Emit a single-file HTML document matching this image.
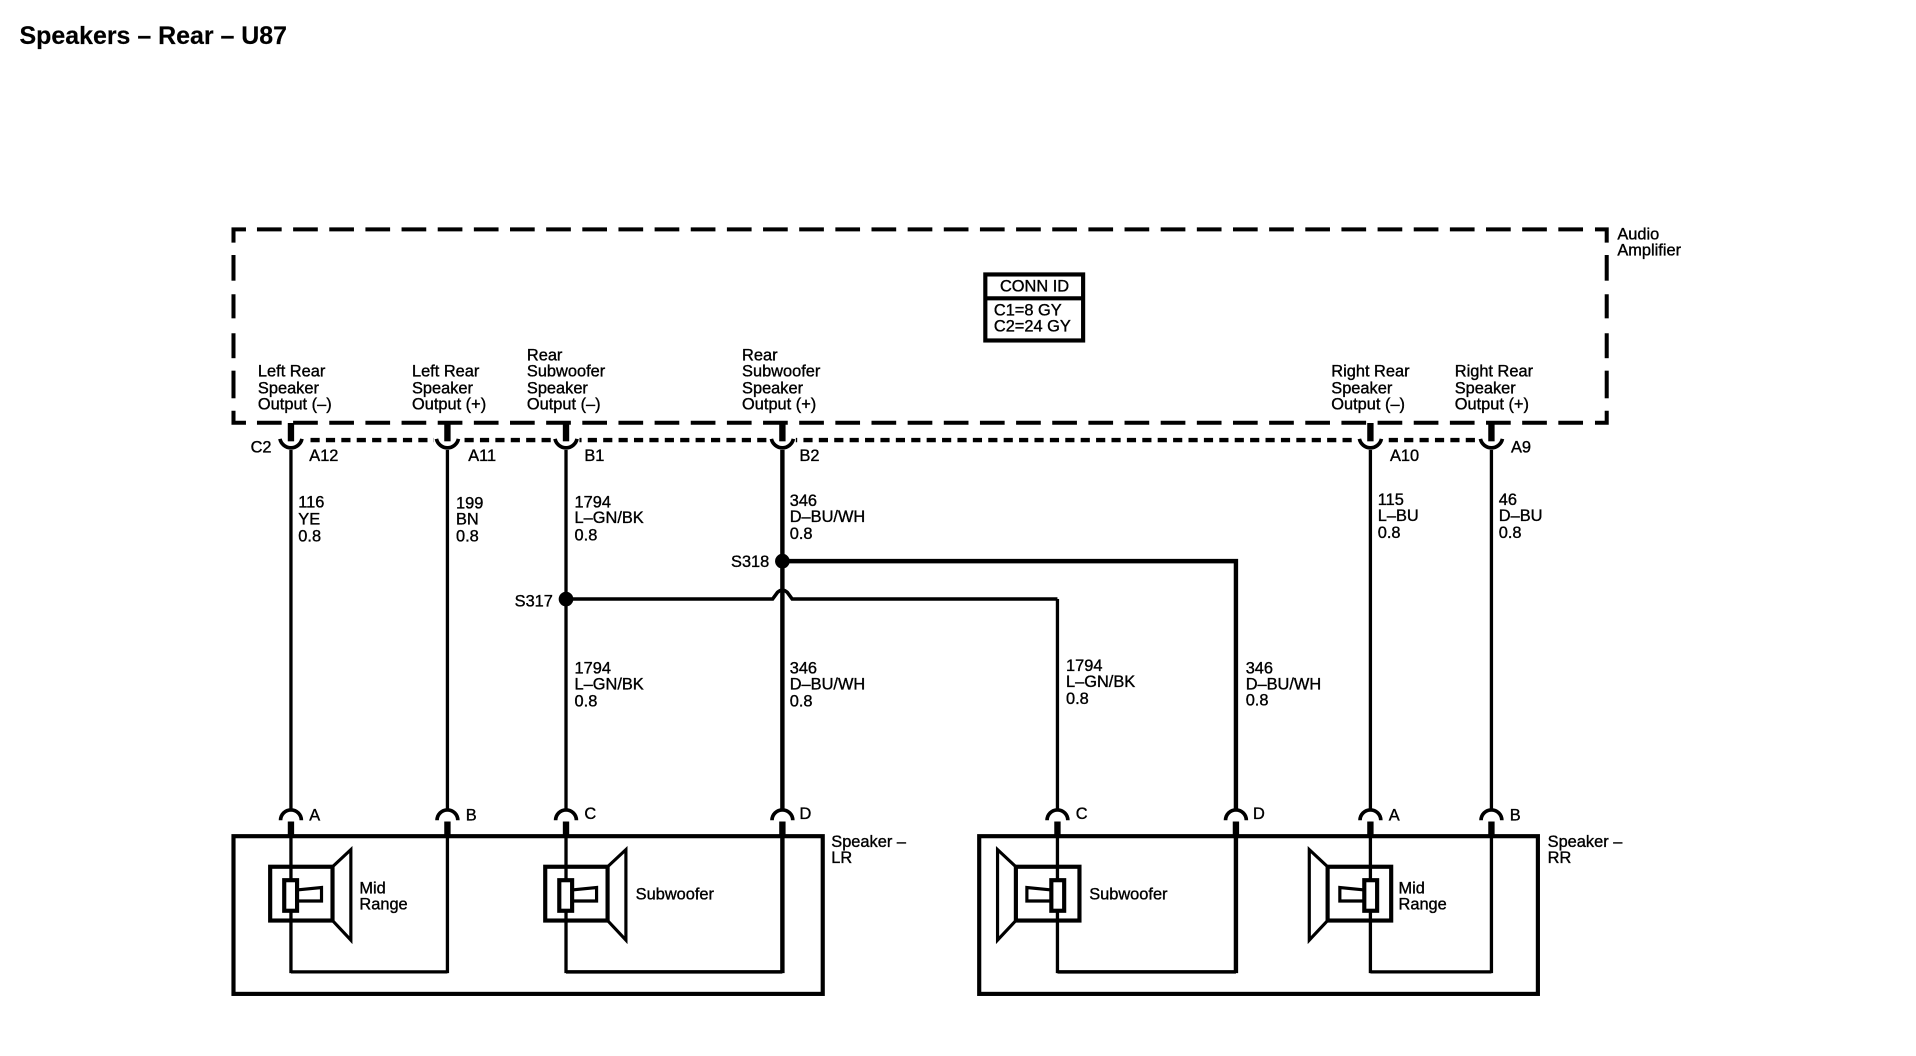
<!DOCTYPE html>
<html><head><meta charset="utf-8"><title>Speakers – Rear – U87</title>
<style>
html,body{margin:0;padding:0;background:#fff;width:1916px;height:1056px;overflow:hidden}
svg{display:block}
text{font-family:"Liberation Sans",sans-serif;font-size:13.4px;fill:#000;stroke:#000;stroke-width:.3}
.t{font-size:20.4px;font-weight:bold;stroke-width:.15}
line,path,polyline,rect,polygon{fill:none;stroke:#000;stroke-linecap:butt}
.w{stroke-width:2.7}.h{stroke-width:3.6}.s{stroke-width:5.2}.c{stroke-width:3}.b{stroke-width:3.4}.k{stroke-width:2.6}
</style></head><body>
<svg width="1916" height="1056" viewBox="0 0 1567.3 863.8" xmlns="http://www.w3.org/2000/svg">
<text class="t" x="16" y="36">Speakers – Rear – U87</text>

<!-- amplifier dashed outline -->
<g style="stroke-width:3.3">
<line x1="210.2" y1="187.6" x2="1296" y2="187.6" stroke-dasharray="20.2 9.37"/>
<line x1="210.2" y1="345.8" x2="1296" y2="345.8" stroke-dasharray="20.2 9.37"/>
<polyline points="191,198.5 191,187.6 201.2,187.6"/><polyline points="191,336 191,345.8 201.2,345.8"/>
<polyline points="1304.7,187.6 1314.3,187.6 1314.3,198.5"/><polyline points="1304.7,345.8 1314.3,345.8 1314.3,336"/>
<line x1="191" y1="208.6" x2="191" y2="229.6"/><line x1="191" y1="240.7" x2="191" y2="260.4"/>
<line x1="191" y1="272.6" x2="191" y2="293"/><line x1="191" y1="303.2" x2="191" y2="325.8"/>
<line x1="1314.3" y1="208.6" x2="1314.3" y2="229.6"/><line x1="1314.3" y1="240.7" x2="1314.3" y2="260.4"/>
<line x1="1314.3" y1="272.6" x2="1314.3" y2="293"/><line x1="1314.3" y1="303.2" x2="1314.3" y2="325.8"/>
</g>
<text x="1323" y="196">Audio</text><text x="1323" y="209">Amplifier</text>

<rect x="806" y="224.5" width="80" height="54" class="b"/><line x1="806" y1="244" x2="886" y2="244" class="b"/>
<text x="818" y="238.5">CONN ID</text><text x="813" y="258">C1=8 GY</text><text x="813" y="271">C2=24 GY</text>

<!-- dotted connector line -->
<line x1="254" y1="360" x2="1208" y2="360" stroke-dasharray="7.5 5.1" style="stroke-width:3.6"/>

<!-- white masks behind cups -->
<rect x="226" y="354" width="24" height="12" style="fill:#fff;stroke:none"/>
<rect x="355" y="354" width="22" height="12" style="fill:#fff;stroke:none"/>
<rect x="452" y="354" width="22" height="12" style="fill:#fff;stroke:none"/>
<rect x="629" y="354" width="22" height="12" style="fill:#fff;stroke:none"/>
<rect x="1110" y="354" width="22" height="12" style="fill:#fff;stroke:none"/>
<rect x="1209" y="354" width="22" height="12" style="fill:#fff;stroke:none"/>

<!-- top connectors -->
<g class="c">
<path d="M229,359 A9.2,9.2 0 0 0 247,359"/><path d="M357,359 A9.2,9.2 0 0 0 375,359"/>
<path d="M454,359 A9.2,9.2 0 0 0 472,359"/><path d="M631,359 A9.2,9.2 0 0 0 649,359"/>
<path d="M1112,359 A9.2,9.2 0 0 0 1130,359"/><path d="M1211,359 A9.2,9.2 0 0 0 1229,359"/>
</g>
<g class="s">
<line x1="238" y1="346" x2="238" y2="361"/><line x1="366" y1="346" x2="366" y2="361"/>
<line x1="463" y1="346" x2="463" y2="361"/><line x1="640" y1="346" x2="640" y2="361"/>
<line x1="1121" y1="346" x2="1121" y2="361"/><line x1="1220" y1="346" x2="1220" y2="361"/>
</g>
<text x="205" y="370">C2</text><text x="253" y="377">A12</text><text x="383" y="377">A11</text>
<text x="478" y="377">B1</text><text x="654" y="377">B2</text><text x="1137" y="377">A10</text><text x="1236" y="370">A9</text>

<!-- wires -->
<g class="w">
<line x1="238" y1="368" x2="238" y2="796"/><line x1="366" y1="368" x2="366" y2="796"/>
<polyline points="238,795 366,795"/>
<line x1="463" y1="368" x2="463" y2="796"/>
<line x1="865" y1="490" x2="865" y2="796"/>
<line x1="1121" y1="368" x2="1121" y2="796"/><line x1="1220" y1="368" x2="1220" y2="796"/>
<polyline points="1121,795 1220,795"/>
</g>
<g class="h">
<line x1="640" y1="368" x2="640" y2="796"/>
<polyline points="640,459 1011,459 1011,796"/>
<polyline points="463,795 640,795" style="stroke-width:2.8"/>
<polyline points="865,795 1011,795" style="stroke-width:2.8"/>
<path d="M463,490 L632,490 L636,484.5 Q640,481 644,484.5 L648,490 L865,490" style="stroke-width:2.9"/>
</g>
<circle cx="463" cy="490" r="6"/><circle cx="640" cy="459" r="6"/>
<text x="598" y="464">S318</text><text x="421" y="496">S317</text>

<text x="244" y="415">116</text><text x="244" y="429">YE</text><text x="244" y="443">0.8</text>
<text x="373" y="416">199</text><text x="373" y="429">BN</text><text x="373" y="443">0.8</text>
<text x="470" y="415">1794</text><text x="470" y="428">L–GN/BK</text><text x="470" y="442">0.8</text>
<text x="646" y="414">346</text><text x="646" y="427">D–BU/WH</text><text x="646" y="441">0.8</text>
<text x="1127" y="413">115</text><text x="1127" y="426">L–BU</text><text x="1127" y="440">0.8</text>
<text x="1226" y="413">46</text><text x="1226" y="426">D–BU</text><text x="1226" y="440">0.8</text>
<text x="470" y="551">1794</text><text x="470" y="564">L–GN/BK</text><text x="470" y="578">0.8</text>
<text x="646" y="551">346</text><text x="646" y="564">D–BU/WH</text><text x="646" y="578">0.8</text>
<text x="872" y="549">1794</text><text x="872" y="562">L–GN/BK</text><text x="872" y="576">0.8</text>
<text x="1019" y="551">346</text><text x="1019" y="564">D–BU/WH</text><text x="1019" y="577">0.8</text>

<!-- output labels -->
<text x="211" y="308">Left Rear</text><text x="211" y="322">Speaker</text><text x="211" y="335">Output (–)</text>
<text x="337" y="308">Left Rear</text><text x="337" y="322">Speaker</text><text x="337" y="335">Output (+)</text>
<text x="431" y="295">Rear</text><text x="431" y="308">Subwoofer</text><text x="431" y="322">Speaker</text><text x="431" y="335">Output (–)</text>
<text x="607" y="295">Rear</text><text x="607" y="308">Subwoofer</text><text x="607" y="322">Speaker</text><text x="607" y="335">Output (+)</text>
<text x="1089" y="308">Right Rear</text><text x="1089" y="322">Speaker</text><text x="1089" y="335">Output (–)</text>
<text x="1190" y="308">Right Rear</text><text x="1190" y="322">Speaker</text><text x="1190" y="335">Output (+)</text>

<!-- bottom connector masks and arcs -->
<rect x="229" y="662" width="18" height="10" style="fill:#fff;stroke:none"/><rect x="357" y="662" width="18" height="10" style="fill:#fff;stroke:none"/>
<rect x="454" y="662" width="18" height="10" style="fill:#fff;stroke:none"/><rect x="631" y="662" width="18" height="10" style="fill:#fff;stroke:none"/>
<rect x="856" y="662" width="18" height="10" style="fill:#fff;stroke:none"/><rect x="1002" y="662" width="18" height="10" style="fill:#fff;stroke:none"/>
<rect x="1112" y="662" width="18" height="10" style="fill:#fff;stroke:none"/><rect x="1211" y="662" width="18" height="10" style="fill:#fff;stroke:none"/>
<g class="c">
<path d="M229.5,671 A8.5,8.5 0 0 1 246.5,671"/><path d="M357.5,671 A8.5,8.5 0 0 1 374.5,671"/>
<path d="M454.5,671 A8.5,8.5 0 0 1 471.5,671"/><path d="M631.5,671 A8.5,8.5 0 0 1 648.5,671"/>
<path d="M856.5,671 A8.5,8.5 0 0 1 873.5,671"/><path d="M1002.5,671 A8.5,8.5 0 0 1 1019.5,671"/>
<path d="M1112.5,671 A8.5,8.5 0 0 1 1129.5,671"/><path d="M1211.5,671 A8.5,8.5 0 0 1 1228.5,671"/>
</g>
<g class="s">
<line x1="238" y1="672" x2="238" y2="685"/><line x1="366" y1="672" x2="366" y2="685"/>
<line x1="463" y1="672" x2="463" y2="685"/><line x1="640" y1="672" x2="640" y2="685"/>
<line x1="865" y1="672" x2="865" y2="685"/><line x1="1011" y1="672" x2="1011" y2="685"/>
<line x1="1121" y1="672" x2="1121" y2="685"/><line x1="1220" y1="672" x2="1220" y2="685"/>
</g>
<text x="253" y="671">A</text><text x="381" y="671">B</text><text x="478" y="670">C</text><text x="654" y="670">D</text>
<text x="880" y="670">C</text><text x="1025" y="670">D</text><text x="1136" y="671">A</text><text x="1235" y="671">B</text>

<!-- speaker boxes -->
<rect x="191" y="684" width="482" height="129" class="b"/>
<rect x="801" y="684" width="457" height="129" class="b"/>
<text x="680" y="693">Speaker –</text><text x="680" y="706">LR</text>
<text x="1266" y="693">Speaker –</text><text x="1266" y="706">RR</text>

<!-- LR mid -->
<rect x="221" y="709" width="51" height="44" class="b"/>
<rect x="232.5" y="720" width="10.5" height="25" style="fill:#fff;stroke-width:3.4"/>
<polyline points="243,728 263,726 263,737 243,737" class="k"/>
<polygon points="272,709 287,695 287,769 272,753" class="k"/>
<text x="294" y="731">Mid</text><text x="294" y="744">Range</text>
<!-- LR sub -->
<rect x="446" y="709" width="51" height="44" class="b"/>
<rect x="457.5" y="720" width="10.5" height="25" style="fill:#fff;stroke-width:3.4"/>
<polyline points="468,728 488,726 488,737 468,737" class="k"/>
<polygon points="497,709 512,695 512,769 497,753" class="k"/>
<text x="520" y="736">Subwoofer</text>
<!-- RR sub -->
<rect x="831" y="709" width="52" height="44" class="b"/>
<rect x="860" y="720" width="10.5" height="25" style="fill:#fff;stroke-width:3.4"/>
<polyline points="860,728 840,726 840,737 860,737" class="k"/>
<polygon points="831,709 816,695 816,769 831,753" class="k"/>
<text x="891" y="736">Subwoofer</text>
<!-- RR mid -->
<rect x="1086" y="709" width="52" height="44" class="b"/>
<rect x="1116" y="720" width="10.5" height="25" style="fill:#fff;stroke-width:3.4"/>
<polyline points="1116,728 1096,726 1096,737 1116,737" class="k"/>
<polygon points="1086,709 1071,695 1071,769 1086,753" class="k"/>
<text x="1144" y="731">Mid</text><text x="1144" y="744">Range</text>
</svg>
</body></html>
